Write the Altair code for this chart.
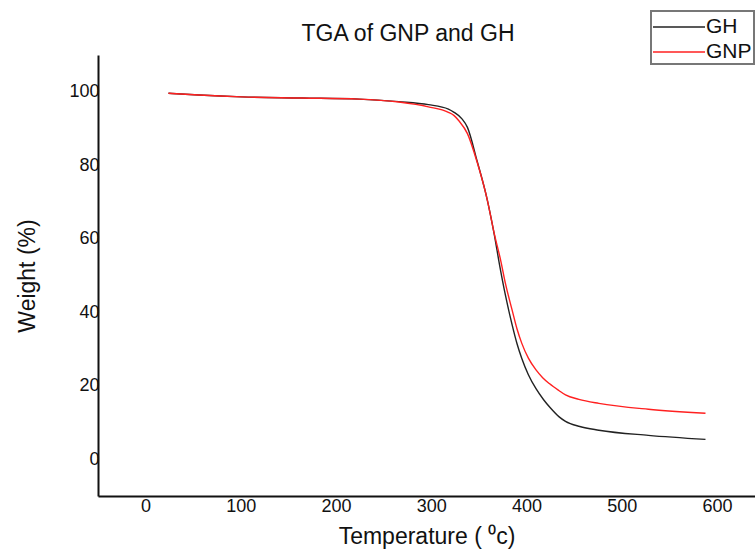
import altair as alt
import pandas as pd

gh_temp = [24, 56, 101, 164, 224, 266, 297, 318, 324, 332, 338, 348, 359, 366, 372, 378, 385, 390, 395, 402, 410, 418, 425, 434, 441, 456, 476, 528, 588]
gh_weight = [99.6, 99.1, 98.6, 98.3, 98.0, 97.3, 96.5, 95.3, 94.4, 92.7, 90.3, 81.3, 70.4, 61.4, 52.5, 44.5, 36.5, 31.5, 27.5, 23.0, 19.2, 16.2, 14.0, 11.6, 10.3, 8.9, 7.9, 6.5, 5.4]

gnp_temp = [24, 56, 101, 164, 224, 266, 297, 318, 324, 329, 338, 348, 359, 366, 373, 378, 385, 390, 395, 402, 410, 417, 424, 434, 441, 455, 476, 528, 588]
gnp_weight = [99.6, 99.1, 98.6, 98.3, 98.0, 97.2, 95.9, 94.4, 93.5, 92.1, 88.6, 81.0, 70.4, 61.6, 54.0, 47.7, 40.5, 35.5, 31.6, 27.5, 24.3, 22.2, 20.6, 18.7, 17.5, 16.3, 15.2, 13.6, 12.5]

series_names = ["GH", "GNP"]
series_colors = ["#222222", "#ff2020"]
x_ticks = [0, 100, 200, 300, 400, 500, 600]
y_ticks = [0, 20, 40, 60, 80, 100]
chart_title = ["TGA of GNP and GH"]

rows = []
for t, w in zip(gh_temp, gh_weight):
    rows.append({"Temperature": t, "Weight": w, "Sample": "GH"})
for t, w in zip(gnp_temp, gnp_weight):
    rows.append({"Temperature": t, "Weight": w, "Sample": "GNP"})
df = pd.DataFrame(rows)

FONT = "Liberation Sans"

lines = alt.Chart(df).mark_line(strokeWidth=1.4, interpolate="monotone").encode(
    x=alt.X("Temperature:Q",
            scale=alt.Scale(domain=[-50, 640], nice=False, zero=False),
            axis=alt.Axis(values=x_ticks, title="Temperature ( \u2070c)", grid=False, ticks=False,
                          domainColor="#111111", domainWidth=2, labelFontSize=18, labelColor="#111111",
                          labelFont=FONT, titleFont=FONT, titleFontSize=23, titleFontWeight="normal",
                          titleColor="#111111", labelPadding=1, titlePadding=10, labelFlush=False)),
    y=alt.Y("Weight:Q",
            scale=alt.Scale(domain=[-10, 110], nice=False, zero=False),
            axis=alt.Axis(values=y_ticks, title="Weight (%)", grid=False, ticks=False,
                          domainColor="#111111", domainWidth=2, labelFontSize=18, labelColor="#111111",
                          labelFont=FONT, titleFont=FONT, titleFontSize=23, titleFontWeight="normal",
                          titleColor="#111111", labelPadding=-1, titlePadding=29, labelFlush=False)),
    color=alt.Color("Sample:N",
                    scale=alt.Scale(domain=series_names, range=series_colors),
                    legend=alt.Legend(title=None, orient="none", legendX=553, legendY=-44,
                                      symbolType="M-2,0H2", symbolSize=676, symbolStrokeWidth=1.3,
                                      labelFontSize=21, labelFont=FONT, labelColor="#111111",
                                      labelExpr="datum.label + '\u00a0\u00a0\u00a0\u00a0\u00a0'",
                                      strokeColor="#777777", padding=2, rowPadding=1,
                                      labelOffset=13, symbolOffset=12)),
)

title_text = alt.Chart(pd.DataFrame({"t": chart_title})).mark_text(
    font=FONT, fontSize=23, color="#111111", align="center", baseline="alphabetic"
).encode(text="t:N", x=alt.value(310), y=alt.value(-14))

chart = alt.layer(lines, title_text).properties(
    width=657,
    height=441,
    padding={"left": 98, "top": 55, "right": 0, "bottom": 54},
    autosize=alt.AutoSizeParams(type="none"),
).configure_view(stroke=None).configure_legend(strokeWidth=2)

chart.save("out.html", embed_options={"renderer": "svg", "actions": False})
